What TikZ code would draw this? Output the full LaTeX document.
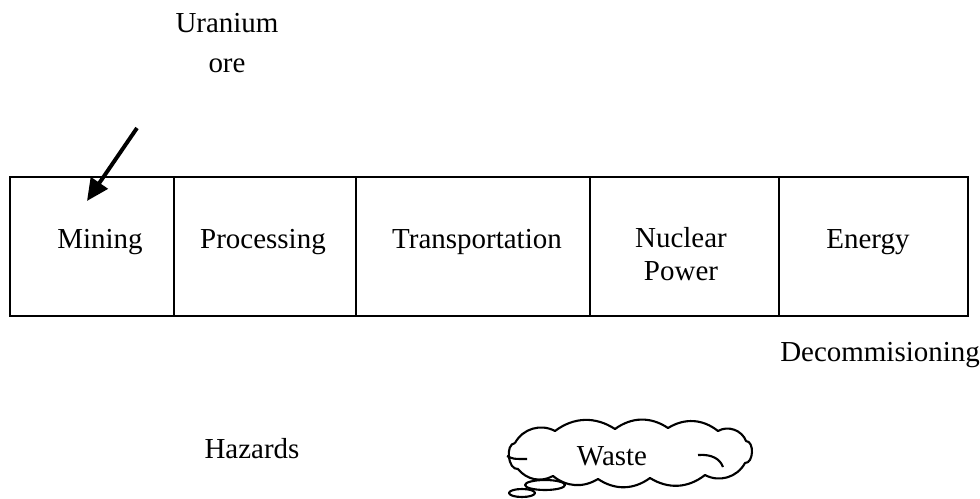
\documentclass[tikz,border=0pt]{standalone}
\usepackage{fontspec}
\setmainfont{Liberation Serif}
\usetikzlibrary{positioning,arrows.meta}

\tikzset{
  stage/.style={draw, line width=1.4pt, minimum height=3.475cm, inner sep=0pt, outer sep=0pt},
  plain/.style={font=\fontsize{20.6}{28.5}\selectfont, inner sep=0pt, align=center},
  puff/.style={line width=1.5pt, line join=round},
}

\begin{document}
\begin{tikzpicture}[x=0.025cm, y=-0.025cm]
\useasboundingbox (0,0) rectangle (980,499);

% the chain of stages
\node[stage, minimum width=4.1cm, anchor=north west] (mining) at (10,177) {};
\node[stage, minimum width=4.55cm, right=0pt of mining] (processing) {};
\node[stage, minimum width=5.85cm, right=0pt of processing] (transport) {};
\node[stage, minimum width=4.725cm, right=0pt of transport] (nuclear) {};
\node[stage, minimum width=4.725cm, right=0pt of nuclear] (energy) {};

\node[plain, anchor=base] (miningtxt) at (100,248) {Mining};
\node[plain, anchor=base] (processingtxt) at (263,248) {Processing};
\node[plain, anchor=base] (transporttxt) at (477,248) {Transportation};
\node[plain, font=\fontsize{20.6}{23.5}\selectfont] (nucleartxt) at (681,254) {Nuclear\\Power};
\node[plain, anchor=base] (energytxt) at (868,248) {Energy};

% input
\node[plain] (ore) at (227,43) {Uranium\\ore};
\coordinate (orefrom) at (137,128);
\coordinate (oretip) at (87,201);
\draw[line width=2.8pt, -{Triangle[length=0.55cm, width=0.5cm]}] (orefrom) -- (oretip);

% below the chain
\node[plain, anchor=base west] (decom) at (780,361) {Decommisioning};
\node[plain, anchor=base] (hazards) at (252,458) {Hazards};

% thought cloud
\draw[puff] (515,443) to[bend left=45] (555,431) to[bend left=35] (615,429)
  to[bend left=35] (668,428) to[bend left=35] (718,431) to[bend left=50] (746,441)
  to[bend left=90] (745,463) to[bend left=45] (705,475) to[bend left=35] (650,478)
  to[bend left=35] (598,479) to[bend left=35] (553,476) to[bend left=40] (518,469)
  to[bend left=90] (515,443);
\node[plain, anchor=base] (waste) at (612,465) {Waste};
\draw[puff] (698,455) .. controls (712,454) and (720,459) .. (723,467);
\draw[puff] (507,456) .. controls (513,459) .. (527,459);
\draw[puff] (545,485) ellipse [x radius=20, y radius=5];
\draw[puff] (522,493) ellipse [x radius=13, y radius=4];
\end{tikzpicture}
\end{document}
